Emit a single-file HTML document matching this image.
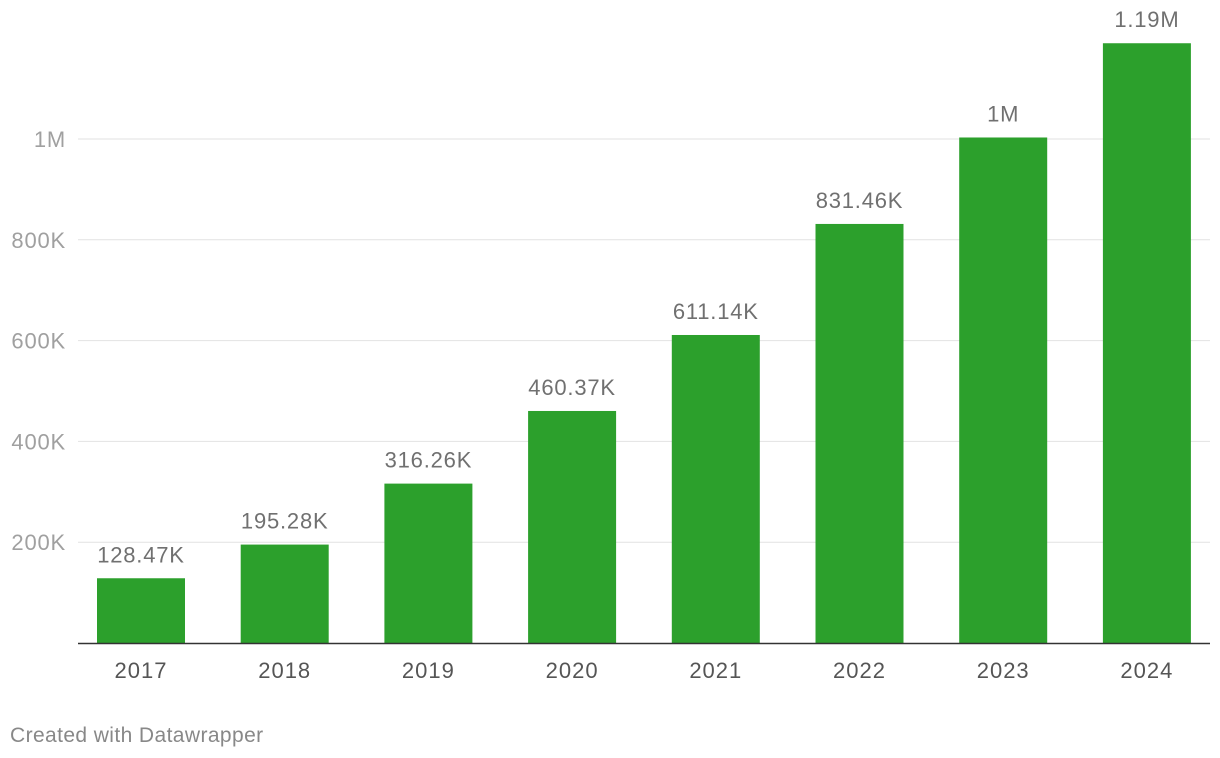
<!DOCTYPE html>
<html><head><meta charset="utf-8"><style>
body{margin:0;background:#fff;width:1220px;height:758px;overflow:hidden;font-family:"Liberation Sans",Arial,sans-serif}
svg{display:block}
</style></head><body>
<svg id="chart" width="1220" height="758" xmlns="http://www.w3.org/2000/svg"></svg>
<script>
const categories=["2017","2018","2019","2020","2021","2022","2023","2024"];
const values=[128470,195280,316260,460370,611140,831460,1003000,1190000];
const valueLabels=["128.47K","195.28K","316.26K","460.37K","611.14K","831.46K","1M","1.19M"];
const yTicks=[200000,400000,600000,800000,1000000];
const yTickLabels=["200K","400K","600K","800K","1M"];
const NS="http://www.w3.org/2000/svg";
const svg=document.getElementById('chart');
const x0=78,x1=1210,y0=643,yTop=139;
const yScale=v=>y0-(v/1000000)*(y0-yTop);
const step=143.7,firstX=97,bw=88;
const xScale=i=>firstX+i*step;
function mk(t,a){const e=document.createElementNS(NS,t);for(const k in a)e.setAttribute(k,a[k]);svg.appendChild(e);return e;}
yTicks.forEach((v,i)=>{
  const g=mk('line',{x1:x0,x2:x1,y1:yScale(v),y2:yScale(v),stroke:'#e2e2e2','stroke-width':1});
  
  
  const t=mk('text',{x:66,y:yScale(v)+8,'text-anchor':'end','font-size':22,'letter-spacing':0.8,fill:'#a0a0a0'});
  t.textContent=yTickLabels[i];
  
  
});
values.forEach((v,i)=>{
  const r=mk('rect',{x:xScale(i),y:yScale(v),width:bw,height:y0-yScale(v),fill:'#2ca02c'});
  
  
  const l=mk('text',{x:xScale(i)+bw/2,y:yScale(v)-16,'text-anchor':'middle','font-size':22,'letter-spacing':0.8,fill:'#707070'});
  l.textContent=valueLabels[i];
  
  
  const c=mk('text',{x:xScale(i)+bw/2,y:678,'text-anchor':'middle','font-size':22,'letter-spacing':1,fill:'#555'});
  c.textContent=categories[i];
  
  
});
const ax=mk('line',{x1:x0,x2:x1,y1:y0+0.5,y2:y0+0.5,stroke:'#333','stroke-width':1.5});


const f=mk('text',{x:10,y:742,'font-size':21,'letter-spacing':0.4,fill:'#888'});
f.textContent='Created with Datawrapper';


</script>
</body></html>
